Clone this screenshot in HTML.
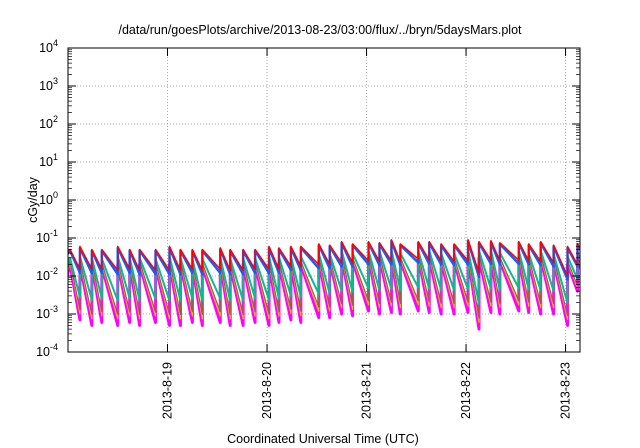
<!DOCTYPE html>
<html><head><meta charset="utf-8"><style>
body{margin:0;background:#fff}
svg{display:block;font-family:"Liberation Sans",sans-serif}
</style></head><body>
<svg id="chart" width="640" height="448" viewBox="0 0 640 448">
<text x="320" y="34" text-anchor="middle" font-size="12.5">/data/run/goesPlots/archive/2013-08-23/03:00/flux/../bryn/5daysMars.plot</text>
<g id="grid"></g>
<g id="series"></g>
<rect x="68" y="48" width="512" height="304" fill="none" stroke="#000" stroke-width="1"/>
<g id="axes"></g>
<text transform="translate(37,200) rotate(-90)" text-anchor="middle" font-size="12.5">cGy/day</text>
<text x="323" y="443" text-anchor="middle" font-size="12.5">Coordinated Universal Time (UTC)</text>
</svg>
<script>
// days since 2013-08-18 00:00 UTC
const spikeTimes = [0.02,0.12,0.24,0.34,0.50,0.62,0.72,0.88,1.02,1.13,1.25,1.35,1.53,1.63,1.76,1.88,2.02,2.12,2.24,2.34,2.52,2.63,2.75,2.86,3.02,3.13,3.25,3.34,3.52,3.63,3.75,3.88,4.02,4.13,4.25,4.34,4.53,4.63,4.75,4.88,5.02,5.12];
const redPeaks = [0.05,0.06,0.05,0.05,0.06,0.05,0.05,0.05,0.06,0.05,0.05,0.05,0.055,0.05,0.05,0.05,0.06,0.055,0.06,0.06,0.07,0.065,0.08,0.07,0.08,0.075,0.09,0.07,0.08,0.08,0.07,0.07,0.09,0.08,0.085,0.075,0.08,0.07,0.08,0.065,0.06,0.07];
const redTroughs = [0.03,0.015,0.015,0.015,0.014,0.015,0.014,0.014,0.014,0.014,0.015,0.014,0.015,0.014,0.014,0.015,0.015,0.015,0.018,0.018,0.02,0.02,0.022,0.022,0.025,0.024,0.025,0.024,0.028,0.026,0.025,0.024,0.025,0.012,0.026,0.025,0.026,0.025,0.024,0.022,0.01,0.02];
const magPeaks = [0.02,0.02,0.02,0.018,0.02,0.02,0.02,0.018,0.02,0.02,0.018,0.018,0.02,0.018,0.02,0.02,0.02,0.02,0.02,0.02,0.025,0.025,0.03,0.025,0.03,0.03,0.03,0.025,0.03,0.03,0.025,0.025,0.03,0.03,0.03,0.025,0.03,0.025,0.03,0.025,0.02,0.025];
const magTroughs = [0.004,0.0007,0.0005,0.0006,0.0005,0.0006,0.0005,0.0006,0.0005,0.0005,0.0006,0.0005,0.0006,0.0005,0.0005,0.0006,0.0005,0.0006,0.0007,0.0006,0.0008,0.0008,0.001,0.0009,0.0012,0.001,0.0011,0.001,0.0012,0.0011,0.001,0.001,0.0011,0.0004,0.0011,0.001,0.0012,0.0011,0.001,0.001,0.0005,0.004];
const seriesNames = ["magenta","yellow","brown","teal","blue","red"];
const seriesColors = ["#ff00ff","#e8c000","#9a5a5a","#10b890","#1060ff","#ff0000"];
const seriesMix = [0,0.12,0.2,0.45,0.93,1];
const seriesWidths = [3,1.2,1.2,2,2.5,1.5];
const yTicks = [-4,-3,-2,-1,0,1,2,3,4];
const xTickDays = [1,2,3,4,5];
const xTickLabels = ["2013-8-19","2013-8-20","2013-8-21","2013-8-22","2013-8-23"];

const X0=68,X1=580,Y0=352,Y1=48,T0=0,T1=5.145;
const xs=t=>X0+(t-T0)/(T1-T0)*(X1-X0);
const ys=v=>Y0-(Math.log10(v)+4)/8*(Y0-Y1);
const NS="http://www.w3.org/2000/svg";
const grid=document.getElementById('grid'),axes=document.getElementById('axes'),sg=document.getElementById('series');
function mk(tag,attrs,parent){const e=document.createElementNS(NS,tag);for(const k in attrs)e.setAttribute(k,attrs[k]);parent.appendChild(e);return e;}
yTicks.forEach(p=>{
  const y=ys(Math.pow(10,p));
  if(p>-4&&p<4){const l=mk('line',{x1:X0,x2:X1,y1:y,y2:y,stroke:'#aaa','stroke-dasharray':'1,2'},grid);
  
  }
  const t1=mk('line',{x1:X0,x2:X0+8,y1:y,y2:y,stroke:'#000'},axes);
  
  
  const t2=mk('line',{x1:X1-8,x2:X1,y1:y,y2:y,stroke:'#000'},axes);
  
  
  if(p<4){for(let m=2;m<10;m++){const ym=ys(m*Math.pow(10,p));
    const a=mk('line',{x1:X0,x2:X0+4,y1:ym,y2:ym,stroke:'#000','stroke-width':0.7},axes);
    
    
    const b=mk('line',{x1:X1-4,x2:X1,y1:ym,y2:ym,stroke:'#000','stroke-width':0.7},axes);
    
    }}
  const tx=mk('text',{x:58,y:y+4,'text-anchor':'end','font-size':12.5},axes);
  
  
  tx.textContent='10';
  const s=mk('tspan',{dy:-6,'font-size':9},tx);s.textContent=String(p);
});
xTickDays.forEach((d,i)=>{
  const x=xs(d);
  const l=mk('line',{x1:x,x2:x,y1:Y1,y2:Y0,stroke:'#aaa','stroke-dasharray':'1,2'},grid);
  
  
  const a=mk('line',{x1:x,x2:x,y1:Y0-8,y2:Y0,stroke:'#000'},axes);
  
  
  const b=mk('line',{x1:x,x2:x,y1:Y1,y2:Y1+8,stroke:'#000'},axes);
  
  
  const t=mk('text',{transform:`translate(${x+4},362) rotate(-90)`,'text-anchor':'end','font-size':12.5},axes);
  
  
  t.textContent=xTickLabels[i];
});
const clip=mk('clipPath',{id:'pc'},document.getElementById('chart'));
mk('rect',{x:X0,y:Y1,width:X1-X0,height:Y0-Y1},clip);
sg.setAttribute('clip-path','url(#pc)');
function lerpLog(a,b,f){return Math.pow(10,Math.log10(a)+(Math.log10(b)-Math.log10(a))*f);}
seriesNames.forEach((nm,si)=>{
  const f=seriesMix[si];
  let d='';
  const n=spikeTimes.length;
  d+=`M${xs(T0-0.05)},${ys(lerpLog(magTroughs[0],redTroughs[0],f))}`;
  for(let i=0;i<n;i++){
    const pk=lerpLog(magPeaks[i],redPeaks[i],f);
    const j=i+1<n?i+1:i;
    const tr=lerpLog(magTroughs[j],redTroughs[j],f);
    const tNext=i+1<n?spikeTimes[i+1]:T1+0.1;
    d+=` L${xs(spikeTimes[i])},${ys(pk)} L${xs(tNext)},${ys(tr)}`;
  }
  const p=mk('path',{d:d,fill:'none',stroke:seriesColors[si],'stroke-width':seriesWidths[si],'stroke-linejoin':'round'},sg);
  
  
});
</script>
</body></html>
